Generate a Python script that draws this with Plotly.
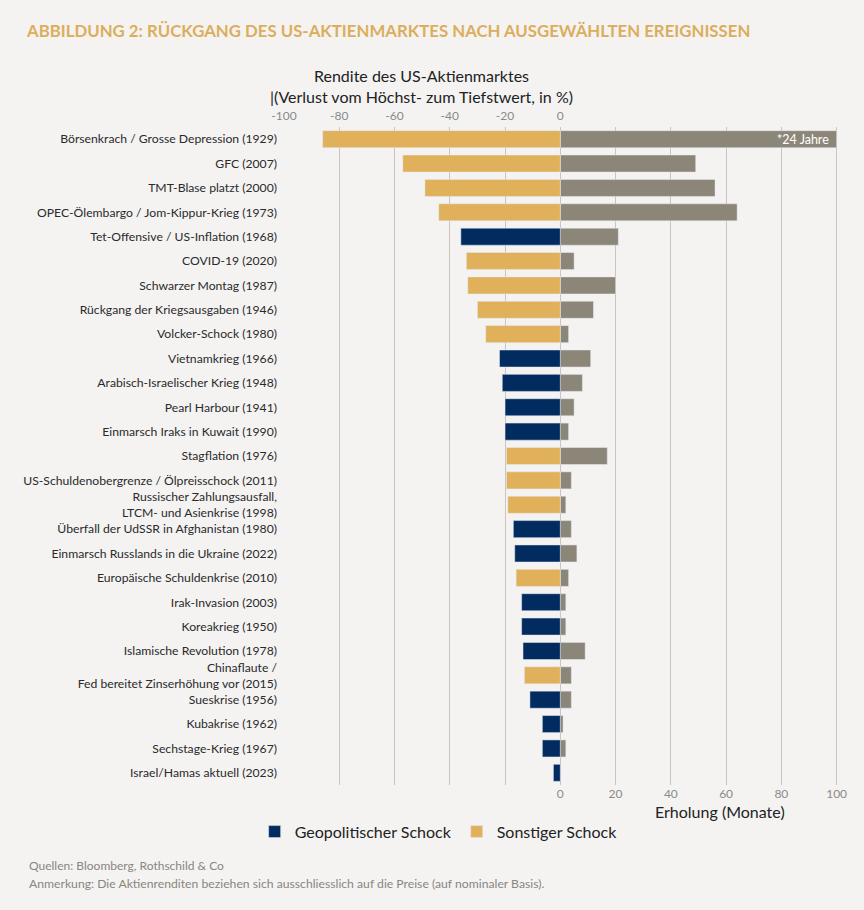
import plotly.graph_objects as go

# Ereignisse von oben nach unten
events = [
    "Börsenkrach / Grosse Depression (1929)",
    "GFC (2007)",
    "TMT-Blase platzt (2000)",
    "OPEC-Ölembargo / Jom-Kippur-Krieg (1973)",
    "Tet-Offensive / US-Inflation (1968)",
    "COVID-19 (2020)",
    "Schwarzer Montag (1987)",
    "Rückgang der Kriegsausgaben (1946)",
    "Volcker-Schock (1980)",
    "Vietnamkrieg (1966)",
    "Arabisch-Israelischer Krieg (1948)",
    "Pearl Harbour (1941)",
    "Einmarsch Iraks in Kuwait (1990)",
    "Stagflation (1976)",
    "US-Schuldenobergrenze / Ölpreisschock (2011)",
    "Russischer Zahlungsausfall,<br>LTCM- und Asienkrise (1998)",
    "Überfall der UdSSR in Afghanistan (1980)",
    "Einmarsch Russlands in die Ukraine (2022)",
    "Europäische Schuldenkrise (2010)",
    "Irak-Invasion (2003)",
    "Koreakrieg (1950)",
    "Islamische Revolution (1978)",
    "Chinaflaute /<br>Fed bereitet Zinserhöhung vor (2015)",
    "Sueskrise (1956)",
    "Kubakrise (1962)",
    "Sechstage-Krieg (1967)",
    "Israel/Hamas aktuell (2023)",
]

# Verlust vom Höchst- zum Tiefstwert, in %
loss = [-86, -57, -49, -44, -36, -34, -33.5, -30, -27, -22, -21, -20, -20,
        -19.5, -19.5, -19, -17, -16.5, -16, -14, -14, -13.5, -13, -11,
        -6.5, -6.5, -2.5]

# Erholung in Monaten (1929 abgeschnitten bei 100, eigentlich 24 Jahre)
recovery = [100, 49, 56, 64, 21, 5, 20, 12, 3, 11, 8, 5, 3, 17, 4, 2, 4, 6,
            3, 2, 2, 9, 4, 4, 1, 2, 0]

# G = geopolitischer Schock, S = sonstiger Schock
shock = ["S", "S", "S", "S", "G", "S", "S", "S", "S", "G", "G", "G", "G",
         "S", "S", "S", "G", "G", "S", "G", "G", "G", "S", "G", "G", "G", "G"]

ticks = [-100, -80, -60, -40, -20, 0, 20, 40, 60, 80, 100]

NAVY = "#022c5f"
GOLD = "#e0b05b"
GREY = "#8c8679"
BG = "#f4f3f2"
FONT = "Lato"

geo_y = [e for e, s in zip(events, shock) if s == "G"]
geo_x = [v for v, s in zip(loss, shock) if s == "G"]
oth_y = [e for e, s in zip(events, shock) if s == "S"]
oth_x = [v for v, s in zip(loss, shock) if s == "S"]

fig = go.Figure()

fig.add_trace(go.Bar(
    y=events, x=recovery, orientation="h", marker_color=GREY,
    width=0.7, showlegend=False, hoverinfo="x+y",
))
fig.add_trace(go.Bar(
    y=geo_y, x=geo_x, orientation="h", marker_color=NAVY,
    width=0.7, name="Geopolitischer Schock",
))
fig.add_trace(go.Bar(
    y=oth_y, x=oth_x, orientation="h", marker_color=GOLD,
    width=0.7, name="Sonstiger Schock",
))
# unsichtbare Spur, damit die obere Achse gezeichnet wird
fig.add_trace(go.Scatter(
    x=[None], y=[events[0]], xaxis="x2", mode="markers",
    showlegend=False, hoverinfo="skip",
))

fig.update_layout(
    width=864, height=910,
    paper_bgcolor=BG, plot_bgcolor=BG,
    barmode="overlay",
    margin=dict(l=284, r=26, t=127, b=125),
    font=dict(family=FONT, size=12, color="#222222"),
    title=dict(
        text="<b>ABBILDUNG 2: RÜCKGANG DES US-AKTIENMARKTES NACH AUSGEWÄHLTEN EREIGNISSEN</b>",
        x=27 / 864, xanchor="left", xref="container",
        y=1 - 31 / 910, yanchor="middle", yref="container",
        font=dict(family=FONT, size=16.8, color="#dcae5c"),
    ),
    xaxis=dict(
        range=[-100, 100.5], tickvals=ticks,
        ticktext=["" if t < 0 else str(t) for t in ticks],
        showgrid=True, gridcolor="#cdc3c2", gridwidth=1,
        zeroline=False, showline=False,
        tickfont=dict(size=12, color="#8a8a8a"), ticks="",
    ),
    xaxis2=dict(
        range=[-100, 100.5], overlaying="x", side="top", matches="x",
        tickvals=ticks,
        ticktext=[str(t) if t <= 0 else "" for t in ticks],
        showgrid=False, zeroline=False, showline=False,
        tickfont=dict(size=12, color="#8a8a8a"), ticks="",
        ticklabelstandoff=4,
    ),
    yaxis=dict(
        categoryorder="array", categoryarray=events,
        range=[len(events) - 0.5, -0.5], autorange=False,
        showgrid=False, zeroline=False, ticks="", ticklabelstandoff=6,
        tickfont=dict(size=12.2, color="#2a2a2a"),
    ),
    legend=dict(
        orientation="h", x=-0.053, xanchor="left", y=-0.071, yanchor="middle",
        font=dict(size=16, color="#222222"), bgcolor="rgba(0,0,0,0)",
        itemwidth=30, traceorder="normal",
    ),
)

foot_x = (27 - 284) / 554
annotations = [
    dict(text="*24 Jahre", x=98, y=events[0], xref="x", yref="y",
         xanchor="right", showarrow=False,
         font=dict(size=12.5, color="white")),
    dict(text="Rendite des US-Aktienmarktes<br>|(Verlust vom Höchst- zum Tiefstwert, in %)",
         x=0.249, y=1.062, xref="paper", yref="paper", showarrow=False,
         xanchor="center", yanchor="middle",
         font=dict(size=16, color="#222222")),
    dict(text="Erholung (Monate)", x=0.787, y=-0.041, xref="paper",
         yref="paper", showarrow=False, xanchor="center", yanchor="middle",
         font=dict(size=16, color="#222222")),
    dict(text="Quellen: Bloomberg, Rothschild & Co", x=foot_x,
         y=(785 - 865) / 658, xref="paper", yref="paper", showarrow=False,
         xanchor="left", yanchor="middle",
         font=dict(size=12, color="#8a8580")),
    dict(text="Anmerkung: Die Aktienrenditen beziehen sich ausschliesslich auf die Preise (auf nominaler Basis).",
         x=foot_x, y=(785 - 883) / 658, xref="paper", yref="paper",
         showarrow=False, xanchor="left", yanchor="middle",
         font=dict(size=12.2, color="#8a8580")),
]
fig.update_layout(annotations=annotations)

# Seitenrand des Browsers entfernen, damit die Grafik bündig sitzt
fig.write_html(
    "out.html",
    config={"displayModeBar": False},
    post_script="document.body.style.margin='0';"
                "document.body.style.background='%s';" % BG,
)
